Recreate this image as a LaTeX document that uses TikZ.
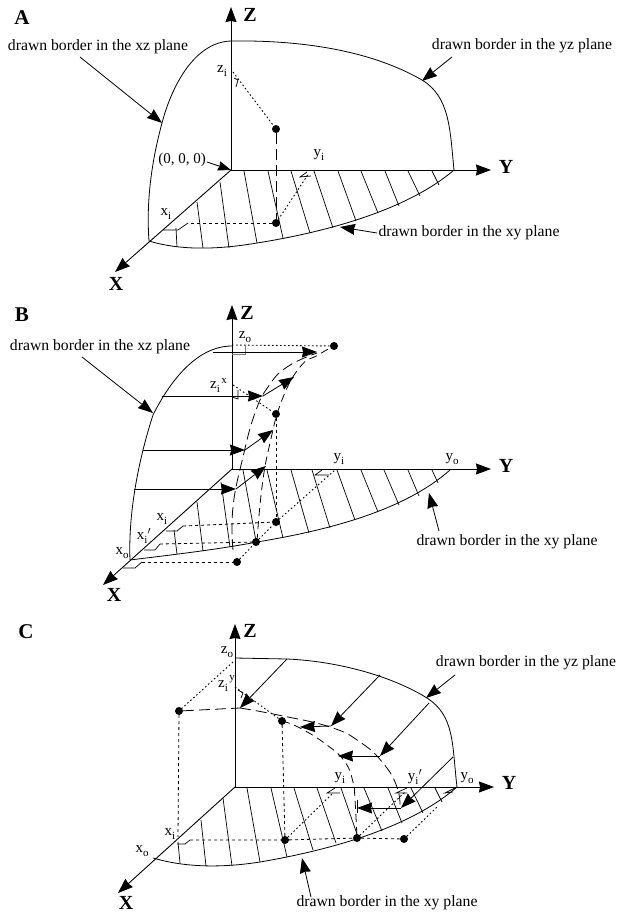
\documentclass[tikz,border=0pt]{standalone}
\usepackage{fontspec}
\setmainfont{Liberation Serif}
\usetikzlibrary{arrows.meta}
\newcommand{\sbi}[1]{\raisebox{-0.28em}{\fontsize{11}{12}\selectfont #1}}
\tikzset{
  x=1pt,y=-1pt,
  every node/.style={inner sep=0pt,outer sep=0pt},
  axisline/.style={line width=0.9pt,-{Stealth[length=15pt,width=11pt,inset=1pt]}},
  bigarrow/.style={line width=0.8pt,-{Stealth[length=15pt,width=11pt,inset=1pt]}},
  smallarrow/.style={line width=0.8pt,-{Stealth[length=13pt,width=9.5pt,inset=1pt]}},
  border/.style={line width=0.8pt},
  hatchline/.style={line width=0.7pt},
  dotline/.style={line width=0.9pt,dash pattern=on 1.6pt off 2.4pt},
  shortdash/.style={line width=0.8pt,dash pattern=on 3.2pt off 2.8pt},
  longdash/.style={line width=0.8pt,dash pattern=on 11pt off 5pt},
  midcurve/.style={line width=0.8pt,dash pattern=on 8pt off 5pt},
  rightmark/.style={line width=0.7pt},
  ptdot/.style={circle,fill=black,minimum size=8pt},
  txt/.style={font=\fontsize{15.7}{18}\selectfont},
  lab/.style={font=\fontsize{15}{17}\selectfont},
  axlab/.style={font=\fontsize{20}{22}\selectfont\bfseries},
  panellab/.style={font=\fontsize{21}{23}\selectfont\bfseries},
}
\begin{document}
\begin{tikzpicture}
\useasboundingbox (0,0) rectangle (617,913);
\fill[white] (0,0) rectangle (617,913);

%%%%% PANEL A
\node[panellab] (pA) at (22,18) {A};
\coordinate (Ao) at (231,170);
\coordinate (Az) at (231,7);
\coordinate (Ay) at (491,170);
\coordinate (Ax) at (115,272);
\draw[axisline] (Ao) -- (Az);
\draw[axisline] (Ao) -- (Ay);
\draw[axisline] (Ao) -- (Ax);
\node[axlab] (AZ) at (250,15) {Z};
\node[axlab] (AY) at (506,167) {Y};
\node[axlab] (AX) at (116,284) {X};
\draw[border] (231,41) .. controls (195,42) and (172,85) .. (162,123) .. controls (152,160) and (146,200) .. (149,241);
\draw[border] (231,41) .. controls (300,40) and (370,50) .. (422,80) .. controls (450,97) and (450,130) .. (454,170);
\draw[border] (149,241) .. controls (175,249) and (210,251) .. (257,243) .. controls (320,233) and (405,212) .. (454,170);
\draw[hatchline] (176,228)--(177,247) (197,202)--(203,248) (220,182)--(229,248) (244,171)--(257,243) (268,171)--(283,238) (291,171)--(310,233) (314,171)--(333,228) (338,171)--(356,221) (361,171)--(378,213) (385,171)--(399,206) (408,171)--(420,196) (432,171)--(439,185);
\node[ptdot] (Ap) at (276,129) {};
\node[ptdot] (Aq) at (276,223) {};
\coordinate (Azi) at (233,72);
\coordinate (Ayi) at (309,173);
\coordinate (Axi) at (188,223);
\draw[dotline] (Azi) -- (Ap);
\draw[longdash] (Ap) -- (Aq);
\draw[dotline] (Aq) -- (Ayi);
\draw[shortdash] (Aq) -- (Axi);
\draw[rightmark] (234,78)--(238,80)--(236,87);
\draw[rightmark] (307,172)--(300,177)--(311,176);
\draw[rightmark] (163,230)--(178,230)--(Axi);
\node[lab] (Alzi) at (222,71) {z\sbi{i}};
\node[lab] (Alyi) at (319,155) {y\sbi{i}};
\node[lab] (Alxi) at (166,214) {x\sbi{i}};
\node[lab] (Azero) at (182,160) {(0, 0, 0)};
\coordinate (Az0) at (207,162);
\draw[smallarrow] (Az0) -- (Ao);
\node[txt] (At1) at (98,47) {drawn border in the xz plane};
\coordinate (At1a) at (80,57); \coordinate (At1b) at (162,123);
\draw[bigarrow] (At1a) -- (At1b);
\node[txt] (At2) at (522,46) {drawn border in the yz plane};
\coordinate (At2a) at (452,57); \coordinate (At2b) at (422,81);
\draw[bigarrow] (At2a) -- (At2b);
\node[txt] (At3) at (469,233) {drawn border in the xy plane};
\coordinate (At3a) at (377,233); \coordinate (At3b) at (340,227);
\draw[bigarrow] (At3a) -- (At3b);

%%%%% PANEL B
\node[panellab] (pB) at (22,315) {B};
\coordinate (Bo) at (232,469);
\coordinate (Bz) at (232,305);
\coordinate (By) at (491,469);
\coordinate (Bx) at (103,585);
\draw[axisline] (Bo) -- (Bz);
\draw[axisline] (Bo) -- (By);
\draw[axisline] (Bo) -- (Bx);
\node[axlab] (BZ) at (247,313) {Z};
\node[axlab] (BY) at (506,466) {Y};
\node[axlab] (BX) at (114,595) {X};
\draw[border] (232,346) .. controls (195,346) and (168,385) .. (153,415) .. controls (140,455) and (128,510) .. (130,560);
\draw[border] (130,560) .. controls (170,555) and (215,550) .. (257,542) .. controls (330,530) and (405,510) .. (450,470);
\draw[hatchline] (174,530)--(177,554) (197,502)--(203,551) (221,482)--(230,547) (243,470)--(256,541) (267,470)--(283,538) (291,470)--(309,533) (312,470)--(330,528) (337,470)--(355,520) (361,470)--(378,512) (384,470)--(399,505) (408,470)--(419,496) (432,470)--(438,483);
\node[ptdot] (Bp1) at (334,346) {};
\node[ptdot] (Bp2) at (276,414) {};
\node[ptdot] (Bp3) at (276,522) {};
\node[ptdot] (Bp4) at (256,542) {};
\node[ptdot] (Bp5) at (237,562) {};
\coordinate (Bzo) at (232,345);
\coordinate (Bzi) at (233,385);
\coordinate (Byi) at (335,470);
\coordinate (Bxi) at (183,526);
\coordinate (Bxj) at (160,544);
\coordinate (Bxo) at (142,562);
\draw[dotline] (Bzo) -- (Bp1);
\draw[dotline] (Bzi) -- (Bp2);
\draw[shortdash] (Bp2) -- (Bp3);
\draw[dotline] (Bp5) -- (Bp4) -- (Bp3) -- (Byi);
\draw[shortdash] (Bxi) -- (Bp3);
\draw[shortdash] (Bxj) -- (Bp4);
\draw[shortdash] (Bxo) -- (Bp5);
\draw[rightmark] (166,531)--(177,531)--(Bxi);
\draw[rightmark] (144,550)--(155,550)--(Bxj);
\draw[rightmark] (123,568)--(135,568)--(Bxo);
\draw[rightmark] (322,470)--(315,475)--(329,475);
\draw[rightmark] (238,390)--(238,399)--(232,397);
\draw[rightmark,gray] (245,345)--(245,354)--(232,354);
% horizontal then diagonal arrows
\coordinate (Ba1) at (213,352); \coordinate (Ba2) at (317,352);
\draw[bigarrow] (Ba1) -- (Ba2);
\coordinate (Bb1) at (162,396); \coordinate (Bb2) at (263,396); \coordinate (Bb3) at (294,377);
\draw[bigarrow] (Bb1) -- (Bb2); \draw[bigarrow] (Bb2) -- (Bb3);
\coordinate (Bc1) at (143,450); \coordinate (Bc2) at (245,450); \coordinate (Bc3) at (273,430);
\draw[bigarrow] (Bc1) -- (Bc2); \draw[bigarrow] (Bc2) -- (Bc3);
\coordinate (Bd1) at (134,489); \coordinate (Bd2) at (236,489); \coordinate (Bd3) at (266,466);
\draw[bigarrow] (Bd1) -- (Bd2); \draw[bigarrow] (Bd2) -- (Bd3);
% dashed curves
\draw[longdash] plot[smooth,tension=0.8] coordinates {(233,550)(233,507)(243,457)(255,413)(268,387)(287,367)(317,353)};
\draw[midcurve] plot[smooth,tension=0.8] coordinates {(257,542)(262,487)(270,443)(282,400)(300,367)(318,355)(334,346)};
\node[lab] (Blzo) at (245,337) {z\sbi{o}};
\node[lab] (Blzi) at (215,387) {z\sbi{i}};
\node[lab,font=\fontsize{11}{12}\selectfont] (Blsx) at (224,381) {x};
\node[lab] (Blxi) at (162,519) {x\sbi{i}};
\node[lab] (Blxj) at (144,536) {x\sbi{i}$'$};
\node[lab] (Blxo) at (122,553) {x\sbi{o}};
\node[lab] (Blyi) at (339,459) {y\sbi{i}};
\node[lab] (Blyo) at (452,459) {y\sbi{o}};
\node[txt] (Bt1) at (100,347) {drawn border in the xz plane};
\coordinate (Bt1a) at (82,357); \coordinate (Bt1b) at (153,413);
\draw[bigarrow] (Bt1a) -- (Bt1b);
\node[txt] (Bt2) at (507,542) {drawn border in the xy plane};
\coordinate (Bt2a) at (439,531); \coordinate (Bt2b) at (429,493);
\draw[bigarrow] (Bt2a) -- (Bt2b);

%%%%% PANEL C
\node[panellab] (pC) at (26,632) {C};
\coordinate (Co) at (235,787);
\coordinate (Cz) at (235,624);
\coordinate (Cy) at (494,787);
\coordinate (Cx) at (118,893);
\draw[axisline] (Co) -- (Cz);
\draw[axisline] (Co) -- (Cy);
\draw[axisline] (Co) -- (Cx);
\node[axlab] (CZ) at (250,631) {Z};
\node[axlab] (CY) at (509,783) {Y};
\node[axlab] (CX) at (126,903) {X};
\draw[border] (235,658) -- (287,659) .. controls (335,661) and (390,675) .. (427,698) .. controls (455,716) and (452,745) .. (457,787);
\draw[border] (153,858) .. controls (180,866) and (215,869) .. (260,862) .. controls (330,850) and (410,828) .. (457,787);
\draw[hatchline] (178,842)--(180,863) (201,820)--(206,866) (223,798)--(232,866) (247,788)--(260,862) (271,788)--(287,857) (294,788)--(313,850) (317,788)--(336,843) (341,788)--(358,837) (364,788)--(382,831) (388,788)--(402,823) (411,788)--(423,813) (435,788)--(442,802);
\node[ptdot] (Cp1) at (179,711) {};
\node[ptdot] (Cp2) at (282,721) {};
\node[ptdot] (Cp3) at (285,840) {};
\node[ptdot] (Cp4) at (357,838) {};
\node[ptdot] (Cp5) at (404,839) {};
\coordinate (Czo) at (233,662);
\coordinate (Czi) at (235,687);
\coordinate (Cxi) at (190,840);
\coordinate (Cyi) at (333,793);
\coordinate (Cyj) at (405,792);
\coordinate (Cyo) at (437,807);
\coordinate (Cm) at (240,708);
\coordinate (Cxe) at (178,837);
\draw[dotline] (Czo) -- (Cp1);
\draw[shortdash] (Cp1) -- (Cxe);
\draw[longdash] (Cp1) -- (Cm);
\draw[dotline] (Czi) -- (Cp2);
\draw[shortdash] (Cp2) -- (Cp3);
\draw[shortdash] (Cxi) -- (Cp3) -- (Cp4) -- (Cp5);
\draw[dotline] (Cp3) -- (Cyi);
\draw[dotline] (Cp4) -- (Cyj);
\draw[dotline] (Cp5) -- (Cyo);
\draw[rightmark] (177,844)--(185,844)--(Cxi);
\draw[rightmark] (335,788)--(327,793)--(340,793);
\draw[rightmark] (407,788)--(396,793)--(407,793);
\draw[rightmark] (455,788)--(445,793)--(453,792);
\draw[rightmark] (238,690)--(243,693)--(241,698);
% diagonal then horizontal arrows
\coordinate (Ca1) at (287,659);
\draw[bigarrow] (Ca1) -- (Cm);
\coordinate (Cb1) at (380,675); \coordinate (Cb2) at (331,726); \coordinate (Cb3) at (300,727);
\draw[bigarrow] (Cb1) -- (Cb2); \draw[bigarrow] (Cb2) -- (Cb3);
\coordinate (Cc1) at (429,703); \coordinate (Cc2) at (380,756); \coordinate (Cc3) at (338,756);
\draw[bigarrow] (Cc1) -- (Cc2); \draw[bigarrow] (Cc2) -- (Cc3);
\coordinate (Cd1) at (453,757); \coordinate (Cd2) at (401,808); \coordinate (Cd3) at (357,808);
\draw[bigarrow] (Cd1) -- (Cd2); \draw[bigarrow] (Cd2) -- (Cd3);
\draw[rightmark] (357,800)--(357,813);
% dashed curves
\draw[longdash] plot[smooth,tension=0.8] coordinates {(Cm)(278,715)(330,727)(360,742)(383,763)(397,787)(400,808)};
\draw[midcurve] plot[smooth,tension=0.8] coordinates {(Cp2)(300,728)(327,745)(345,762)(353,782)(355,800)(Cp4)};
\node[lab] (Clzo) at (227,652) {z\sbi{o}};
\node[lab] (Clzi) at (223,686) {z\sbi{i}};
\node[lab,font=\fontsize{11}{12}\selectfont] (Clsy) at (232,679) {y};
\node[lab] (Clxi) at (170,834) {x\sbi{i}};
\node[lab] (Clxo) at (142,851) {x\sbi{o}};
\node[lab] (Clyi) at (340,778) {y\sbi{i}};
\node[lab] (Clyj) at (415,777) {y\sbi{i}$'$};
\node[lab] (Clyo) at (467,778) {y\sbi{o}};
\node[txt] (Ct1) at (526,663) {drawn border in the yz plane};
\coordinate (Ct1a) at (455,675); \coordinate (Ct1b) at (426,698);
\draw[bigarrow] (Ct1a) -- (Ct1b);
\node[txt] (Ct2) at (387,903) {drawn border in the xy plane};
\coordinate (Ct2a) at (311,897); \coordinate (Ct2b) at (302,858);
\draw[bigarrow] (Ct2a) -- (Ct2b);
\end{tikzpicture}
\end{document}
